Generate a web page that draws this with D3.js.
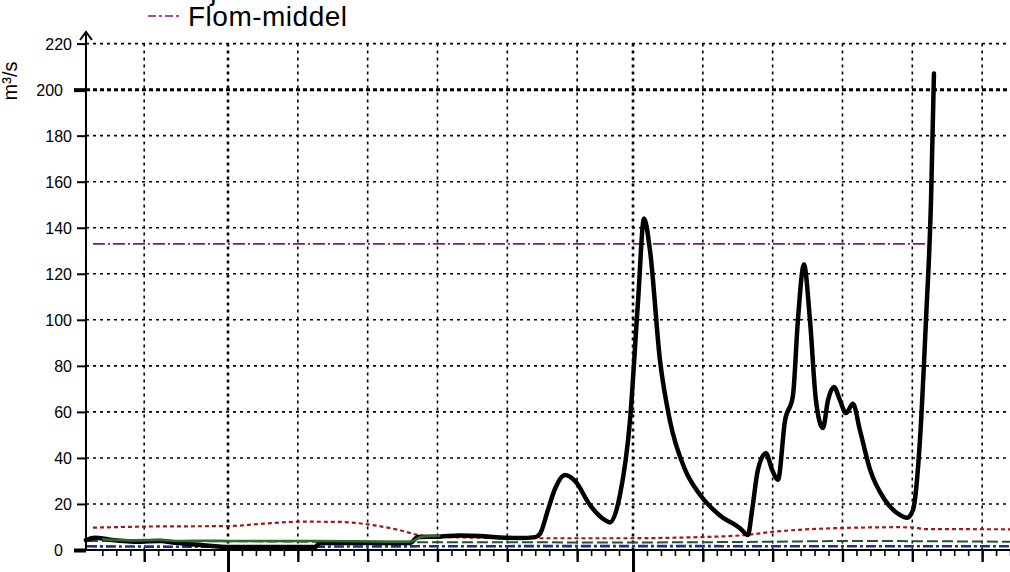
<!DOCTYPE html>
<html><head><meta charset="utf-8">
<script src="https://cdn.jsdelivr.net/npm/d3@7"></script>
<style>
html,body{margin:0;padding:0;background:#fff;}
svg{display:block;font-family:"Liberation Sans",Arial,Helvetica,sans-serif;}
</style></head>
<body>
<svg id="c" width="1010" height="572"></svg>
<script>
// ---------- DATA (days counted from 1 Jan 2024, fractional) ----------
const obsDays = [20.83,21.48,22.55,24.70,26.13,27.21,29.0,31.14,37.23,37.59,44.03,44.60,46.18,47.61,49.04,50.48,51.91,52.98,53.34,53.91,54.41,55.13,55.85,56.92,57.99,58.35,59.07,59.78,60.36,60.79,61.22,61.93,62.65,63.72,64.80,66.23,67.66,68.23,68.52,68.95,69.52,69.95,70.38,70.88,71.45,71.81,72.24,72.67,73.10,73.60,73.96,74.39,74.82,75.25,75.75,76.25,76.97,78.04,79.12,79.62,80.05,80.55,80.98,81.34,81.55];
const obsValues = [4.3,5.3,4.5,3.6,3.9,3.1,2.2,1.3,1.3,3.2,3.0,5.6,5.8,6.3,6.1,5.4,5.2,5.6,7.0,17.4,26.5,32.6,30.0,19.5,13.0,12.0,24.0,56.0,108,144,130,82.5,56.0,35.0,24.0,15.0,9.5,6.5,17.0,35.0,42.0,35.0,30.5,56.0,67.0,100,124,100,65.0,53.0,65.0,70.8,65.0,59.5,63.5,52.0,35.0,21.7,15.2,14.0,17.4,48.0,100,152,207];

const greenDays = [22.0,24.0,26.13,27.5,29.5,31.14,37.23,40.0,43.0,44.03,44.9,46.18];
const greenValues = [4.6,4.2,4.4,3.9,4.0,3.9,3.9,3.8,3.6,3.6,5.8,6.2];

const redDays = [21.33,25.4,31.0,33.29,36.15,39.0,41.16,43.31,44.74,46.89,53.34,59.07,64.80,68.02,70.17,74.11,79.12,80.19,80.91,87.0];
const redValues = [9.7,10.2,10.4,11.3,12.3,12.2,11.0,8.6,6.4,5.6,5.1,5.1,5.6,6.5,8.0,9.4,9.9,9.7,9.1,9.0];

const dashGreenDays = [20.9,31.0,45.0,60.0,70.0,75.0,87.0];
const dashGreenValues = [3.9,3.8,3.4,3.3,3.6,3.9,3.6];

const blueDays = [20.9,31.0,45.0,60.0,75.0,87.0];
const blueValues = [1.6,1.4,1.6,1.7,1.6,1.6];

const floodMeanDays = [21.33,81.40];
const floodMeanValues = [133,133];

const yTicks = [0,20,40,60,80,100,120,140,160,180,200,220];
const dayTickDays = d3.range(21,89);
const gridDays = [25,36,41,46,51,56,65,70,75,80,85];
const monthDays = [31,60];

const legendLabels = ["Gjennomsnitt","Flom-middel"];
const yTitle = "m³/s";

// ---------- SCALES ----------
const base = Date.UTC(2024,0,1);
const toDate = d => new Date(base + d*864e5);
const x = d3.scaleUtc().domain([toDate(31), toDate(60)]).range([228,633]);
const y = d3.scaleLinear().domain([0,220]).range([550,43.6]);
const X0 = 86, X1 = 1010;

const svg = d3.select("#c");

// ---------- GRID ----------
const g = svg.append("g");
g.selectAll("line.hg").data(yTicks.filter(v=>v>0)).join("line")
  .attr("x1",X0).attr("x2",X1).attr("y1",d=>y(d)).attr("y2",d=>y(d))
  .attr("stroke","#000").attr("stroke-width",d=>d===200?3:1.6)
  .attr("stroke-dasharray",d=>d===200?"4,3":"3,4");
g.selectAll("line.vg").data(gridDays).join("line")
  .attr("x1",d=>x(toDate(d))).attr("x2",d=>x(toDate(d)))
  .attr("y1",y(220)).attr("y2",y(0))
  .attr("stroke","#000").attr("stroke-width",1.6).attr("stroke-dasharray","3,4");
g.selectAll("line.mg").data(monthDays).join("line")
  .attr("x1",d=>x(toDate(d))).attr("x2",d=>x(toDate(d)))
  .attr("y1",y(220)).attr("y2",y(0))
  .attr("stroke","#000").attr("stroke-width",2.6).attr("stroke-dasharray","3,4");

// ---------- SERIES ----------
function series(days, vals){ return days.map((d,i)=>({t:toDate(d),v:vals[i]})); }
const lineM = d3.line().x(d=>x(d.t)).y(d=>y(d.v)).curve(d3.curveMonotoneX);
const lineL = d3.line().x(d=>x(d.t)).y(d=>y(d.v)).curve(d3.curveLinear);

svg.append("path").datum(series(floodMeanDays,floodMeanValues)).attr("d",lineL)
  .attr("fill","none").attr("stroke","#7a1a7a").attr("stroke-width",1.6)
  .attr("stroke-dasharray","12,3,2,3");
svg.append("path").datum(series(redDays,redValues)).attr("d",lineM)
  .attr("fill","none").attr("stroke","#a01818").attr("stroke-width",2.2)
  .attr("stroke-dasharray","4,3");
svg.append("path").datum(series(blueDays,blueValues)).attr("d",lineM)
  .attr("fill","none").attr("stroke","#1c2c9c").attr("stroke-width",2.6)
  .attr("stroke-dasharray","10,3,3,3");
svg.append("path").datum(series(dashGreenDays,dashGreenValues)).attr("d",lineM)
  .attr("fill","none").attr("stroke","#24502a").attr("stroke-width",2)
  .attr("stroke-dasharray","11,4");
svg.append("path").datum(series(obsDays,obsValues)).attr("d",lineM)
  .attr("fill","none").attr("stroke","#000").attr("stroke-width",4.5)
  .attr("stroke-linejoin","round").attr("stroke-linecap","round");
svg.append("path").datum(series(greenDays,greenValues)).attr("d",lineM)
  .attr("fill","none").attr("stroke","#2a6a2a").attr("stroke-width",2.6);

// ---------- AXES ----------
const ax = svg.append("g").attr("transform",`translate(0,${y(0)})`);
function xTicks(vals,len,w){
  const a = d3.axisBottom(x).tickValues(vals.map(toDate)).tickSize(len).tickFormat("");
  const gg = ax.append("g").call(a);
  gg.select(".domain").remove();
  gg.selectAll("line").attr("stroke","#000").attr("stroke-width",w);
}
xTicks(dayTickDays.filter(d=>d>21),6,1.6);
xTicks(gridDays,12,2.4);
xTicks(monthDays,30,3);
ax.append("line").attr("x1",74).attr("x2",X1).attr("y1",0).attr("y2",0)
  .attr("stroke","#000").attr("stroke-width",2);

const ay = svg.append("g").attr("transform",`translate(${X0},0)`);
const yA = d3.axisLeft(y).tickValues(yTicks).tickSize(0).tickFormat("");
ay.call(yA); ay.select(".domain").remove();
ay.selectAll(".tick").append("line")
  .attr("x1",d=>(d===0||d===200)?-12:-9).attr("x2",0)
  .attr("stroke","#000").attr("stroke-width",d=>(d===0||d===200)?4:2);
ay.selectAll(".tick").append("text")
  .attr("x",d=>(d===0||d===200)?-23:-14).attr("dy","0.35em")
  .attr("text-anchor","end").attr("font-size",16).attr("fill","#000")
  .text(d=>d);
ay.append("line").attr("x1",0).attr("x2",0).attr("y1",y(0)).attr("y2",32)
  .attr("stroke","#000").attr("stroke-width",2);
ay.append("path").attr("d","M-6,40 L0,32 L6,40").attr("fill","none")
  .attr("stroke","#000").attr("stroke-width",2);

svg.append("text").attr("transform","translate(17,81) rotate(-90)")
  .attr("text-anchor","middle").attr("font-size",20).attr("fill","#000").text(yTitle);

// ---------- LEGEND ----------
const lg = svg.append("g");
lg.append("line").attr("x1",148).attr("x2",180).attr("y1",-9).attr("y2",-9)
  .attr("stroke","#000").attr("stroke-width",2);
lg.append("text").attr("x",188).attr("y",0).attr("font-size",28)
  .attr("letter-spacing",0.5).attr("fill","#000").text(legendLabels[0]);
lg.append("line").attr("x1",148).attr("x2",180).attr("y1",16).attr("y2",16)
  .attr("stroke","#7a1a7a").attr("stroke-width",1.6).attr("stroke-dasharray","8,3,3,3");
lg.append("text").attr("x",188).attr("y",26).attr("font-size",28)
  .attr("letter-spacing",0.5).attr("fill","#000").text(legendLabels[1]);
</script>
</body></html>
